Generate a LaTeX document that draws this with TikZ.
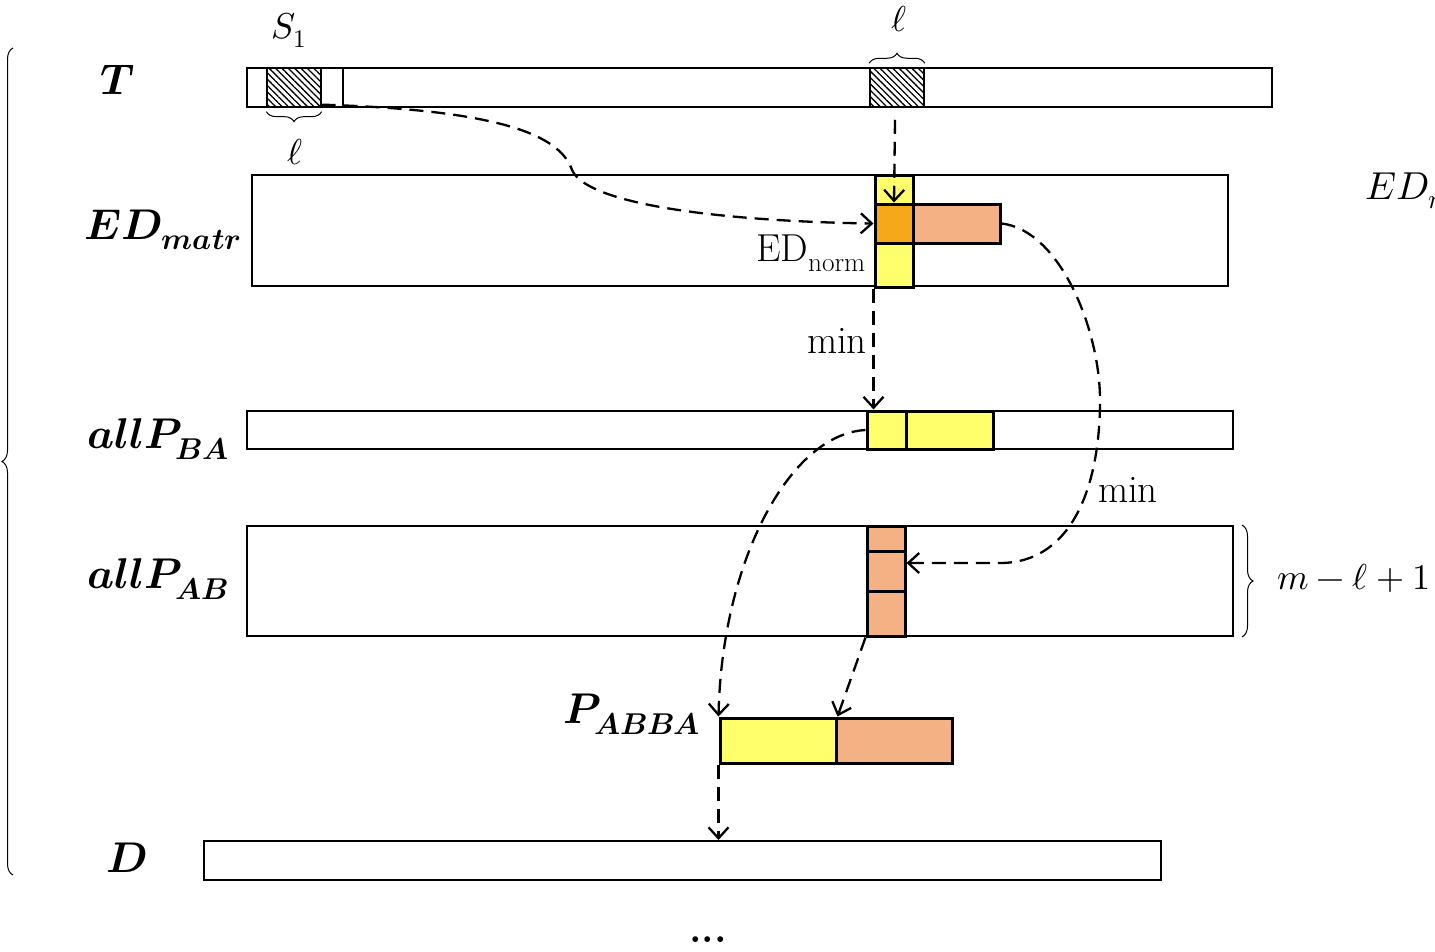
\documentclass[tikz,border=0pt]{standalone}
\usepackage{unicode-math}
\setmathfont{Latin Modern Math}
\usetikzlibrary{arrows.meta,patterns.meta,decorations.pathreplacing,calc,fit}
\definecolor{cyel}{HTML}{FFFF6B}
\definecolor{corg}{HTML}{F5A81A}
\definecolor{csal}{HTML}{F4B183}
\newcommand\biglab[1]{\fontsize{43}{48}\selectfont$#1$}
\newcommand\midlab[1]{\fontsize{36}{40}\selectfont$#1$}
\newcommand\lablab[1]{\fontsize{39}{44}\selectfont$#1$}
\begin{document}
\begin{tikzpicture}[x=1pt,y=-1pt,
  bar/.style={draw, line width=2pt, inner sep=0pt, fill=white},
  cell/.style={draw, line width=3pt, inner sep=0pt},
  hatch/.style={draw, line width=1.5pt, inner sep=0pt, pattern={Lines[angle=-45,distance=4.5pt,line width=1.3pt]}},
  dsh/.style={line width=2.3pt, dash pattern=on 14pt off 8pt},
  arr/.style={-{Straight Barb[length=11pt,width=20pt,line width=2.3pt]}},
  brc/.style={decorate, line width=1pt},
  txt/.style={inner sep=0pt}
]
\useasboundingbox (0,0) rectangle (1435,951);
\clip (0,0) rectangle (1435,951);

% bars
\node[bar, fit={(247,68)(1272,107)}] (T) {};
\node[bar, fit={(252,175)(1228,286)}] (ED) {};
\node[bar, fit={(247,411)(1233,449)}] (BA) {};
\node[bar, fit={(247,526)(1233,636)}] (AB) {};
\node[bar, fit={(204,841)(1161,880)}] (D) {};

% T cells
\node[hatch, fit={(267,68)(321,107)}] (s1) {};
\node[draw, line width=1.5pt, inner sep=0pt, fit={(321,68)(343,107)}] (s1r) {};
\node[hatch, fit={(870,68)(924,107)}] (h2) {};

% ED_matr cells
\node[cell, fill=cyel, fit={(875,175)(913,204)}] (edy1) {};
\node[cell, fill=cyel, fit={(875,243)(913,287)}] (edy2) {};
\node[cell, fill=corg, fit={(875,204)(913,243)}] (edo) {};
\node[cell, fill=csal, fit={(913,204)(1000,243)}] (eds) {};

% allP_BA cells
\node[cell, fill=cyel, fit={(867,411)(906,449)}] (ba1) {};
\node[cell, fill=cyel, fit={(906,411)(993,449)}] (ba2) {};

% allP_AB cells
\node[cell, fill=csal, fit={(867,526)(905,551)}] (ab1) {};
\node[cell, fill=csal, fit={(867,551)(905,591)}] (ab2) {};
\node[cell, fill=csal, fit={(867,591)(905,636)}] (ab3) {};

% P_ABBA
\node[cell, fill=cyel, fit={(720,718)(836,763)}] (p1) {};
\node[cell, fill=csal, fit={(836,718)(952,763)}] (p2) {};

% labels
\node[txt] (lT) at (118,80) {\biglab{\symbfit{T}}};
\node[txt] (lED) at (163,230) {\biglab{\symbfit{ED}_{\symbfit{matr}}}};
\node[txt] (lBA) at (158,439) {\biglab{\symbfit{allP}_{\symbfit{BA}}}};
\node[txt] (lAB) at (158,579) {\biglab{\symbfit{allP}_{\symbfit{AB}}}};
\node[txt] (lP) at (632,714) {\biglab{\symbfit{P}_{\symbfit{ABBA}}}};
\node[txt] (lD) at (127,858) {\biglab{\symbfit{D}}};
\node[txt] (lS1) at (289,30) {\midlab{S_1}};
\node[txt] (ll1) at (295,152) {\midlab{\ell}};
\node[txt] (ll2) at (899,19) {\midlab{\ell}};
\node[txt, anchor=east] (lnorm) at (866,253) {\lablab{\mathrm{ED}_{\mathrm{norm}}}};
\node[txt] (lmin1) at (837,341) {\fontsize{39}{44}\selectfont min};
\node[txt] (lmin2) at (1128,490) {\fontsize{39}{44}\selectfont min};
\node[txt, anchor=west] (lm) at (1277,578) {\midlab{m-\ell+1}};
\node[txt, anchor=west] (lEDn) at (1365,191) {\lablab{ED_{norm}}};
\node[txt] (ldots) at (708,940) {\fontsize{40}{44}\selectfont\bfseries ...};

% braces
\draw[brc, decoration={brace, amplitude=10pt}] ($(s1.south east)+(0,4)$) coordinate (b1a) -- ($(s1.south west)+(0,4)$) coordinate (b1b);
\draw[brc, decoration={brace, amplitude=10pt}] ($(h2.north west)+(0,-4)$) coordinate (b2a) -- ($(h2.north east)+(0,-4)$) coordinate (b2b);
\draw[brc, decoration={brace, amplitude=11pt}] ($(AB.north east)+(8,0)$) coordinate (b3a) -- ($(AB.south east)+(8,0)$) coordinate (b3b);
\draw[brc, decoration={brace, amplitude=11pt}] (13,875) coordinate (b4a) -- (13,48) coordinate (b4b);

% connectors
\draw[dsh, arr] ($(s1.south east)+(0,-3)$) .. controls (500,110) and (560,135) .. (572,170) .. controls (590,210) and (760,222) .. (edo.west);
\draw[dsh, arr] ($(h2.south)+(-2,12)$) -- (edo.north -| edy1.center);
\draw[dsh, arr] (edy2.south west) -- (edy2.south west |- ba1.north);
\draw[dsh, arr] (eds.east) .. controls (1060,230) and (1100,330) .. (1100,400) .. controls (1100,490) and (1070,563) .. (1000,563) -- ($(ab2.east)+(0,-8)$);
\draw[dsh, arr] (ba1.west) .. controls (790,434) and (722,560) .. (p1.north west);
\draw[dsh, arr] (ab3.south west) -- (p1.north east);
\draw[dsh, arr] (p1.south west) -- (p1.south west |- D.north);
\end{tikzpicture}
\end{document}
